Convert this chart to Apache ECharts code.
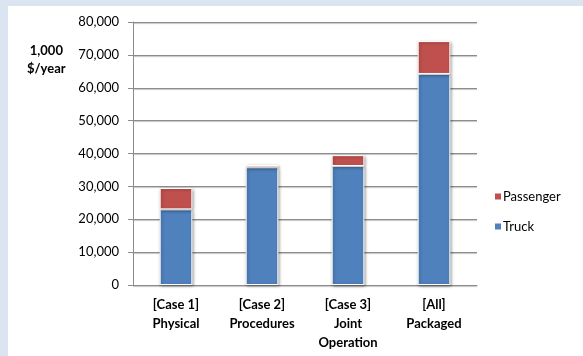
<!DOCTYPE html>
<html>
<head>
<meta charset="utf-8">
<script src="https://cdn.jsdelivr.net/npm/echarts@6/dist/echarts.min.js"></script>
<style>
  html, body { margin: 0; padding: 0; background: #dbe5f1; }
  #chart { position: absolute; left: 8px; top: 6px; width: 575px; height: 350px; background: #ffffff; }
</style>
</head>
<body>
<div id="chart"></div>
<script>
// Annual cost by case, in 1,000 $/year
const categories = ['[Case 1]\nPhysical', '[Case 2]\nProcedures', '[Case 3]\nJoint\nOperation', '[All]\nPackaged'];
const truck = [23000, 35800, 36200, 64200];
const passenger = [6500, 700, 3300, 10000];
const yTicks = [0, 10000, 20000, 30000, 40000, 50000, 60000, 70000, 80000];

const FONT = 'Lato, "Noto Sans", "Liberation Sans", sans-serif';
const chart = echarts.init(document.getElementById('chart'), null, { renderer: 'canvas' });

const barStyle = (color) => ({
  color: color,
  borderColor: '#ffffff',
  borderWidth: 1,
  shadowBlur: 3,
  shadowColor: 'rgba(0,0,0,0.35)',
  shadowOffsetX: 1,
  shadowOffsetY: 1
});

chart.setOption({
  animation: false,
  backgroundColor: '#ffffff',
  textStyle: { fontFamily: FONT },
  grid: { left: 125, top: 16, right: 106, bottom: 71 },
  graphic: [{
    type: 'text',
    left: 19,
    top: 36,
    style: {
      text: '1,000\n$/year',
      font: 'bold 13px ' + FONT,
      fill: '#000',
      textAlign: 'center',
      lineHeight: 18
    }
  }],
  legend: {
    orient: 'vertical',
    left: 480,
    top: 179,
    itemWidth: 8,
    itemHeight: 8,
    itemGap: 17,
    icon: 'rect',
    data: ['Passenger', 'Truck'],
    textStyle: { fontSize: 13, color: '#000', fontFamily: FONT, padding: [0, 0, 0, -4] }
  },
  xAxis: {
    type: 'category',
    data: categories,
    axisLine: { lineStyle: { color: '#8c8c8c' } },
    axisTick: { length: 5, lineStyle: { color: '#8c8c8c' } },
    axisLabel: {
      interval: 0,
      margin: 10,
      color: '#000',
      fontWeight: 'bold',
      fontSize: 13,
      lineHeight: 19,
      fontFamily: FONT
    }
  },
  yAxis: {
    type: 'value',
    min: yTicks[0],
    max: yTicks[yTicks.length - 1],
    interval: yTicks[1] - yTicks[0],
    axisLine: { show: true, lineStyle: { color: '#8c8c8c' } },
    axisTick: { show: true, length: 5, lineStyle: { color: '#8c8c8c' } },
    axisLabel: {
      margin: 14,
      color: '#000',
      fontSize: 13,
      fontFamily: FONT,
      formatter: (v) => v.toLocaleString('en-US')
    },
    splitLine: { lineStyle: { color: '#8c8c8c', shadowColor: 'rgba(0,0,0,0.25)', shadowBlur: 1, shadowOffsetY: 1 } }
  },
  series: [
    {
      name: 'Truck',
      type: 'bar',
      stack: 'total',
      barWidth: '38%',
      data: truck,
      itemStyle: barStyle('#4f81bd')
    },
    {
      name: 'Passenger',
      type: 'bar',
      stack: 'total',
      barWidth: '38%',
      data: passenger,
      itemStyle: barStyle('#c0504d')
    }
  ]
});
</script>
</body>
</html>
